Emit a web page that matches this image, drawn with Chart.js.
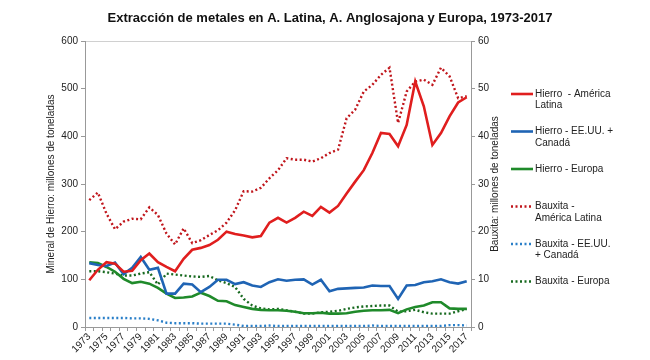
<!DOCTYPE html>
<html>
<head>
<meta charset="utf-8">
<script src="https://cdn.jsdelivr.net/npm/chart.js@4/dist/chart.umd.min.js"></script>
<style>
    body{margin:0;background:#fff;}
    #box{width:650px;height:360px;}
</style>
</head>
<body>
<div id="box"><canvas id="grafico"></canvas></div>
<script>
// datos
const anios = ['1973','1974','1975','1976','1977','1978','1979','1980','1981','1982',
    '1983','1984','1985','1986','1987','1988','1989','1990','1991','1992',
    '1993','1994','1995','1996','1997','1998','1999','2000','2001','2002',
    '2003','2004','2005','2006','2007','2008','2009','2010','2011','2012',
    '2013','2014','2015','2016','2017'];

// hierro, millones de toneladas (eje izquierdo)
const hierroAL = [98,120,136,133,116,118,140,154,136,126,
    117,143,162,166,172,183,200,195,192,188,
    191,219,229,219,229,242,233,252,240,254,
    280,305,329,365,407,405,379,424,515,463,
    382,407,442,471,482];
const hierroUS = [134,130,128,135,111,124,147,120,124,70,
    70,91,89,73,84,99,99,90,94,87,
    84,94,100,97,99,100,89,99,75,80,
    81,82,83,87,86,86,59,87,88,94,
    96,100,94,91,96];
const hierroEU = [136,134,126,116,101,92,95,91,82,70,
    61,62,64,72,65,55,54,46,42,38,
    36,35,35,34,32,29,29,30,28,28,
    29,32,34,35,35,36,29,37,42,45,
    52,52,39,38,38];

// bauxita, millones de toneladas (eje derecho)
const bauxAL = [26.6,28.2,23.8,20.5,22.1,22.7,22.6,25.1,23.5,19.6,
    17.3,20.7,17.6,18.2,19.3,20.3,21.9,24.5,28.5,28.4,
    29.2,31.2,32.9,35.4,35.1,35.1,34.7,35.4,36.5,37.2,
    43.8,45.6,49.4,50.8,52.9,54.4,42.8,49.4,51.5,51.9,
    50.8,54.4,52.6,48,48.4];
const bauxUS = [1.9,1.9,1.9,1.9,1.9,1.8,1.8,1.7,1.4,0.9,
    0.8,0.8,0.8,0.7,0.7,0.7,0.7,0.5,0.2,0.2,
    0.2,0.3,0.2,0.2,0.2,0.2,0.2,0.2,0.2,0.2,
    0.2,0.2,0.2,0.3,0.2,0.2,0.2,0.2,0.2,0.2,
    0.2,0.2,0.4,0.4,0.3];
const bauxEU = [11.7,11.7,11.5,11.2,10.8,10.8,11.2,11.5,8.9,11.2,
    11.0,10.8,10.6,10.5,10.7,9.8,9.2,8.4,5.9,4.5,
    3.9,3.7,3.8,3.5,3.2,2.8,2.8,3.1,3.2,3.4,
    3.8,4.1,4.3,4.4,4.5,4.5,3.2,3.3,3.6,3.1,
    2.8,2.8,2.8,3.3,3.8];

// textos de la leyenda (dos lineas como en el original)
const leyenda = [
    ['Hierro  - América', 'Latina'],
    ['Hierro - EE.UU. +', 'Canadá'],
    ['Hierro - Europa'],
    ['Bauxita -', 'América Latina'],
    ['Bauxita - EE.UU.', '+ Canadá'],
    ['Bauxita - Europa']
];

const fuente = '"Liberation Sans", Arial, sans-serif';
const punteado = [2, 2.5];

function serie(label, data, color, eje, dash){
    return {
        label: label,
        data: data,
        borderColor: color,
        backgroundColor: color,
        borderWidth: dash ? 2.4 : 2.6,
        borderDash: dash ? punteado : [],
        pointRadius: 0,
        tension: 0,
        yAxisID: eje
    };
}

// titulo, titulo del eje derecho y leyenda a mano
const extras = {
    id: 'extras',
    afterDraw(chart){
        const ctx = chart.ctx;
        ctx.save();
        ctx.fillStyle = '#111';
        ctx.font = 'bold 13px ' + fuente;
        ctx.textAlign = 'center';
        ctx.textBaseline = 'middle';
        ctx.fillText('Extracción de metales en A. Latina, A. Anglosajona y Europa, 1973-2017', 330, 18);

        // eje derecho, leido de abajo hacia arriba
        ctx.font = '10px ' + fuente;
        ctx.fillStyle = '#222';
        ctx.translate(495, (chart.chartArea.top + chart.chartArea.bottom) / 2);
        ctx.rotate(-Math.PI / 2);
        ctx.fillText('Bauxita: millones de toneladas', 0, 0);
        ctx.restore();

        ctx.save();
        ctx.font = '10px ' + fuente;
        ctx.textAlign = 'left';
        ctx.textBaseline = 'middle';
        chart.data.datasets.forEach(function(ds, i){
            let y = 94 + i * 37.5;
            ctx.strokeStyle = ds.borderColor;
            ctx.lineWidth = ds.borderWidth;
            ctx.setLineDash(ds.borderDash);
            ctx.beginPath();
            ctx.moveTo(511, y);
            ctx.lineTo(533, y);
            ctx.stroke();
            ctx.fillStyle = '#222';
            leyenda[i].forEach(function(t, k){
                ctx.fillText(t, 535, y + k * 11.5);
            });
        });
        ctx.restore();
    }
};

const data = {
    labels: anios,
    datasets: [
        serie('Hierro - América Latina', hierroAL, '#e01e1e', 'y', false),
        serie('Hierro - EE.UU. + Canadá', hierroUS, '#1f64b4', 'y', false),
        serie('Hierro - Europa', hierroEU, '#1f8a2a', 'y', false),
        serie('Bauxita - América Latina', bauxAL, '#c0151b', 'y2', true),
        serie('Bauxita - EE.UU. + Canadá', bauxUS, '#2a7fc8', 'y2', true),
        serie('Bauxita - Europa', bauxEU, '#17691f', 'y2', true)
    ]
};

const config = {
    type: 'line',
    data: data,
    plugins: [extras],
    options: {
        responsive: true,
        maintainAspectRatio: false,
        animation: false,
        layout: { padding: { top: 41, right: 139, bottom: 0, left: 0 } },
        plugins: {
            legend: { display: false },
            title: { display: false },
            tooltip: { enabled: false }
        },
        scales: {
            x: {
                offset: true,
                grid: { drawOnChartArea: false, offset: true, tickLength: 4, color: '#999' },
                border: { color: '#999' },
                ticks: {
                    autoSkip: false,
                    minRotation: 45,
                    maxRotation: 45,
                    padding: 0,
                    color: '#222',
                    font: { family: fuente, size: 10 },
                    callback: function(v, i){ return i % 2 === 0 ? anios[i] : ''; }
                },
                afterFit: function(s){ s.height = 33; }
            },
            y: {
                position: 'left',
                min: 0,
                max: 600,
                ticks: { stepSize: 100, color: '#222', font: { family: fuente, size: 10 } },
                grid: {
                    tickLength: 4,
                    tickColor: '#999',
                    color: function(c){ return c.tick && c.tick.value === 600 ? '#d0d0d0' : 'rgba(0,0,0,0)'; }
                },
                border: { color: '#999' },
                title: {
                    display: true,
                    text: 'Mineral de Hierro: millones de toneladas',
                    color: '#222',
                    font: { family: fuente, size: 10 },
                    padding: { top: 45, bottom: 0 }
                },
                afterFit: function(s){ s.width = 85; }
            },
            y2: {
                position: 'right',
                min: 0,
                max: 60,
                ticks: { stepSize: 10, color: '#222', font: { family: fuente, size: 10 } },
                grid: { drawOnChartArea: false, tickLength: 4, color: '#999' },
                border: { color: '#999' },
                afterFit: function(s){ s.width = 40; }
            }
        }
    }
};

let ctx = document.getElementById('grafico').getContext('2d');
new Chart(ctx, config);
</script>
</body>
</html>
